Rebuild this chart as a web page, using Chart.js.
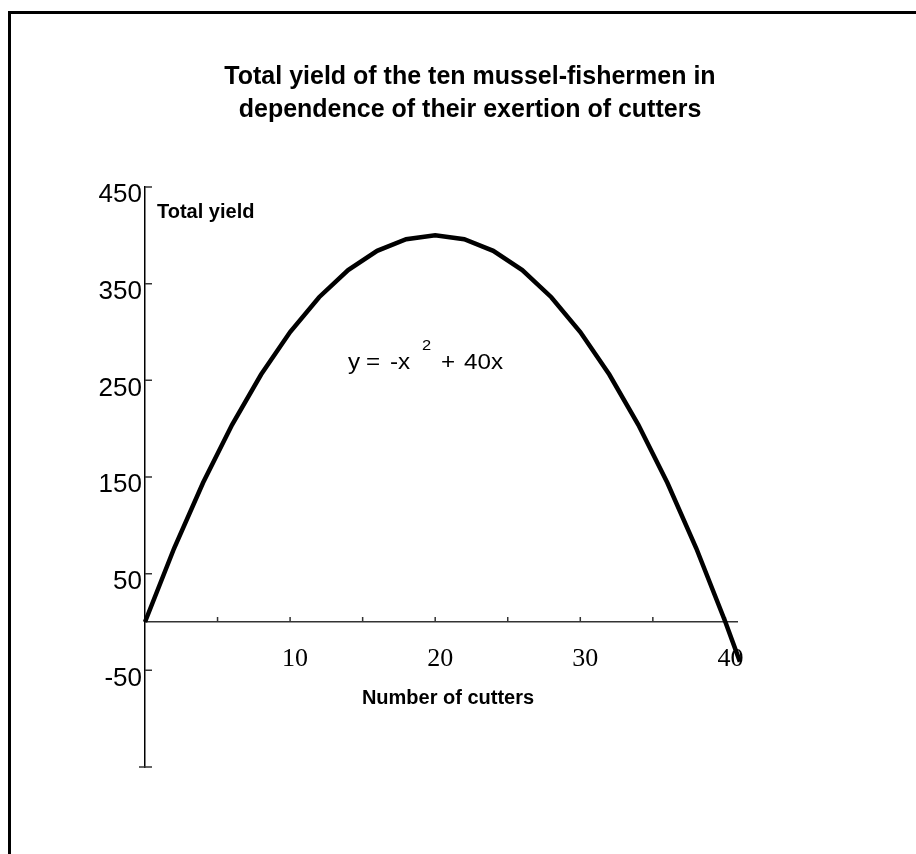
<!DOCTYPE html>
<html>
<head>
<meta charset="utf-8">
<title>Total yield of the ten mussel-fishermen</title>
<script src="https://cdn.jsdelivr.net/npm/chart.js@4/dist/chart.umd.min.js"></script>
<style>
  html, body { margin: 0; padding: 0; background: #fff; overflow: hidden; }
  canvas { display: block; }
</style>
</head>
<body>
<canvas id="chart" width="916" height="854"></canvas>
<script>
// ===== DATA =====
const cutters = [0, 2, 4, 6, 8, 10, 12, 14, 16, 18, 20, 22, 24, 26, 28, 30, 32, 34, 36, 38, 40, 41];
const totalYield = [0, 76, 144, 204, 256, 300, 336, 364, 384, 396, 400, 396, 384, 364, 336, 300, 256, 204, 144, 76, 0, -41];
const yTickValues = [450, 350, 250, 150, 50, -50];
const xTickValues = [0, 5, 10, 15, 20, 25, 30, 35, 40];
const xLabelled = [10, 20, 30, 40];

const titleLines = ['Total yield of the ten mussel-fishermen in', 'dependence of their exertion of cutters'];
const yAxisTitle = 'Total yield';
const xAxisTitle = 'Number of cutters';

const SANS = "'Liberation Sans', Arial, sans-serif";
const SERIF = "'Liberation Serif', 'Times New Roman', serif";

// frame, titles, equation and inward tick marks
const decorations = {
  id: 'decorations',
  beforeDraw(chart) {
    const ctx = chart.ctx;
    ctx.save();
    ctx.fillStyle = '#fff';
    ctx.fillRect(0, 0, chart.width, chart.height);
    ctx.fillStyle = '#000';
    ctx.fillRect(8, 11, 3, chart.height - 11);
    ctx.fillRect(8, 11, chart.width - 8, 3);
    ctx.restore();
  },
  beforeDatasetsDraw(chart) {
    const ctx = chart.ctx;
    const xs = chart.scales.x;
    const ys = chart.scales.y;
    const x0 = xs.getPixelForValue(0);
    const y0 = ys.getPixelForValue(0);
    ctx.save();
    ctx.strokeStyle = '#333';
    ctx.lineWidth = 1.5;
    ctx.beginPath();
    yTickValues.forEach((v) => {
      const py = ys.getPixelForValue(v);
      ctx.moveTo(x0, py);
      ctx.lineTo(x0 + 7, py);
    });
    const pb = ys.getPixelForValue(ys.min);
    ctx.moveTo(x0 - 6, pb);
    ctx.lineTo(x0 + 7, pb);
    xTickValues.forEach((v) => {
      if (v === 0) return;
      const px = xs.getPixelForValue(v);
      ctx.moveTo(px, y0);
      ctx.lineTo(px, y0 - 5);
    });
    ctx.stroke();
    ctx.restore();
  },
  afterDraw(chart) {
    const ctx = chart.ctx;
    ctx.save();
    ctx.fillStyle = '#000';
    ctx.textBaseline = 'alphabetic';

    // title
    ctx.font = `bold 25px ${SANS}`;
    ctx.textAlign = 'center';
    ctx.fillText(titleLines[0], 470, 84);
    ctx.fillText(titleLines[1], 470, 117);

    // axis titles
    ctx.font = `bold 20px ${SANS}`;
    ctx.textAlign = 'left';
    ctx.fillText(yAxisTitle, 157, 218);
    ctx.textAlign = 'center';
    ctx.fillText(xAxisTitle, 448, 704);

    // equation
    ctx.textAlign = 'left';
    const piece = (text, x, y, size) => {
      ctx.save();
      ctx.font = `${size}px ${SANS}`;
      ctx.translate(x, y);
      ctx.scale(1.1, 1);
      ctx.fillText(text, 0, 0);
      ctx.restore();
    };
    piece('y', 348, 369, 22);
    piece('=', 366, 369, 22);
    piece('-x', 390, 369, 22);
    piece('2', 422, 350, 15);
    piece('+', 441, 369, 22);
    piece('40x', 464, 369, 22);
    ctx.restore();
  }
};

new Chart(document.getElementById('chart'), {
  type: 'line',
  data: {
    datasets: [
      {
        label: 'Total yield',
        data: cutters.map((c, i) => ({ x: c, y: totalYield[i] })),
        borderColor: '#000',
        borderWidth: 4.5,
        pointRadius: 0,
        tension: 0,
        fill: false,
        clip: false,
      },
    ],
  },
  options: {
    responsive: false,
    animation: false,
    devicePixelRatio: 1,
    layout: { padding: { left: 0, top: 187, right: 179, bottom: 87 } },
    plugins: {
      legend: { display: false },
      tooltip: { enabled: false },
      title: { display: false },
    },
    scales: {
      x: {
        type: 'linear',
        min: 0,
        max: 40.8,
        position: { y: 0 },
        afterBuildTicks: (s) => { s.ticks = xTickValues.map((v) => ({ value: v })); },
        grid: { display: false, drawTicks: false },
        border: { display: true, color: '#333', width: 1.5 },
        ticks: {
          autoSkip: false,
          maxRotation: 0,
          padding: 22,
          labelOffset: 5,
          color: '#000',
          font: { family: SERIF, size: 26 },
          callback: (v) => (xLabelled.includes(v) ? String(v) : ''),
        },
      },
      y: {
        type: 'linear',
        min: -150,
        max: 450,
        position: 'left',
        afterBuildTicks: (s) => { s.ticks = yTickValues.map((v) => ({ value: v })); },
        afterFit: (s) => { s.width = 145; },
        grid: { display: false, drawTicks: false },
        border: { display: true, color: '#000', width: 1.5 },
        ticks: {
          autoSkip: false,
          padding: 3,
          labelOffset: 8,
          color: '#000',
          font: { family: SANS, size: 26 },
          callback: (v) => String(v),
        },
      },
    },
  },
  plugins: [decorations],
});
</script>
</body>
</html>
